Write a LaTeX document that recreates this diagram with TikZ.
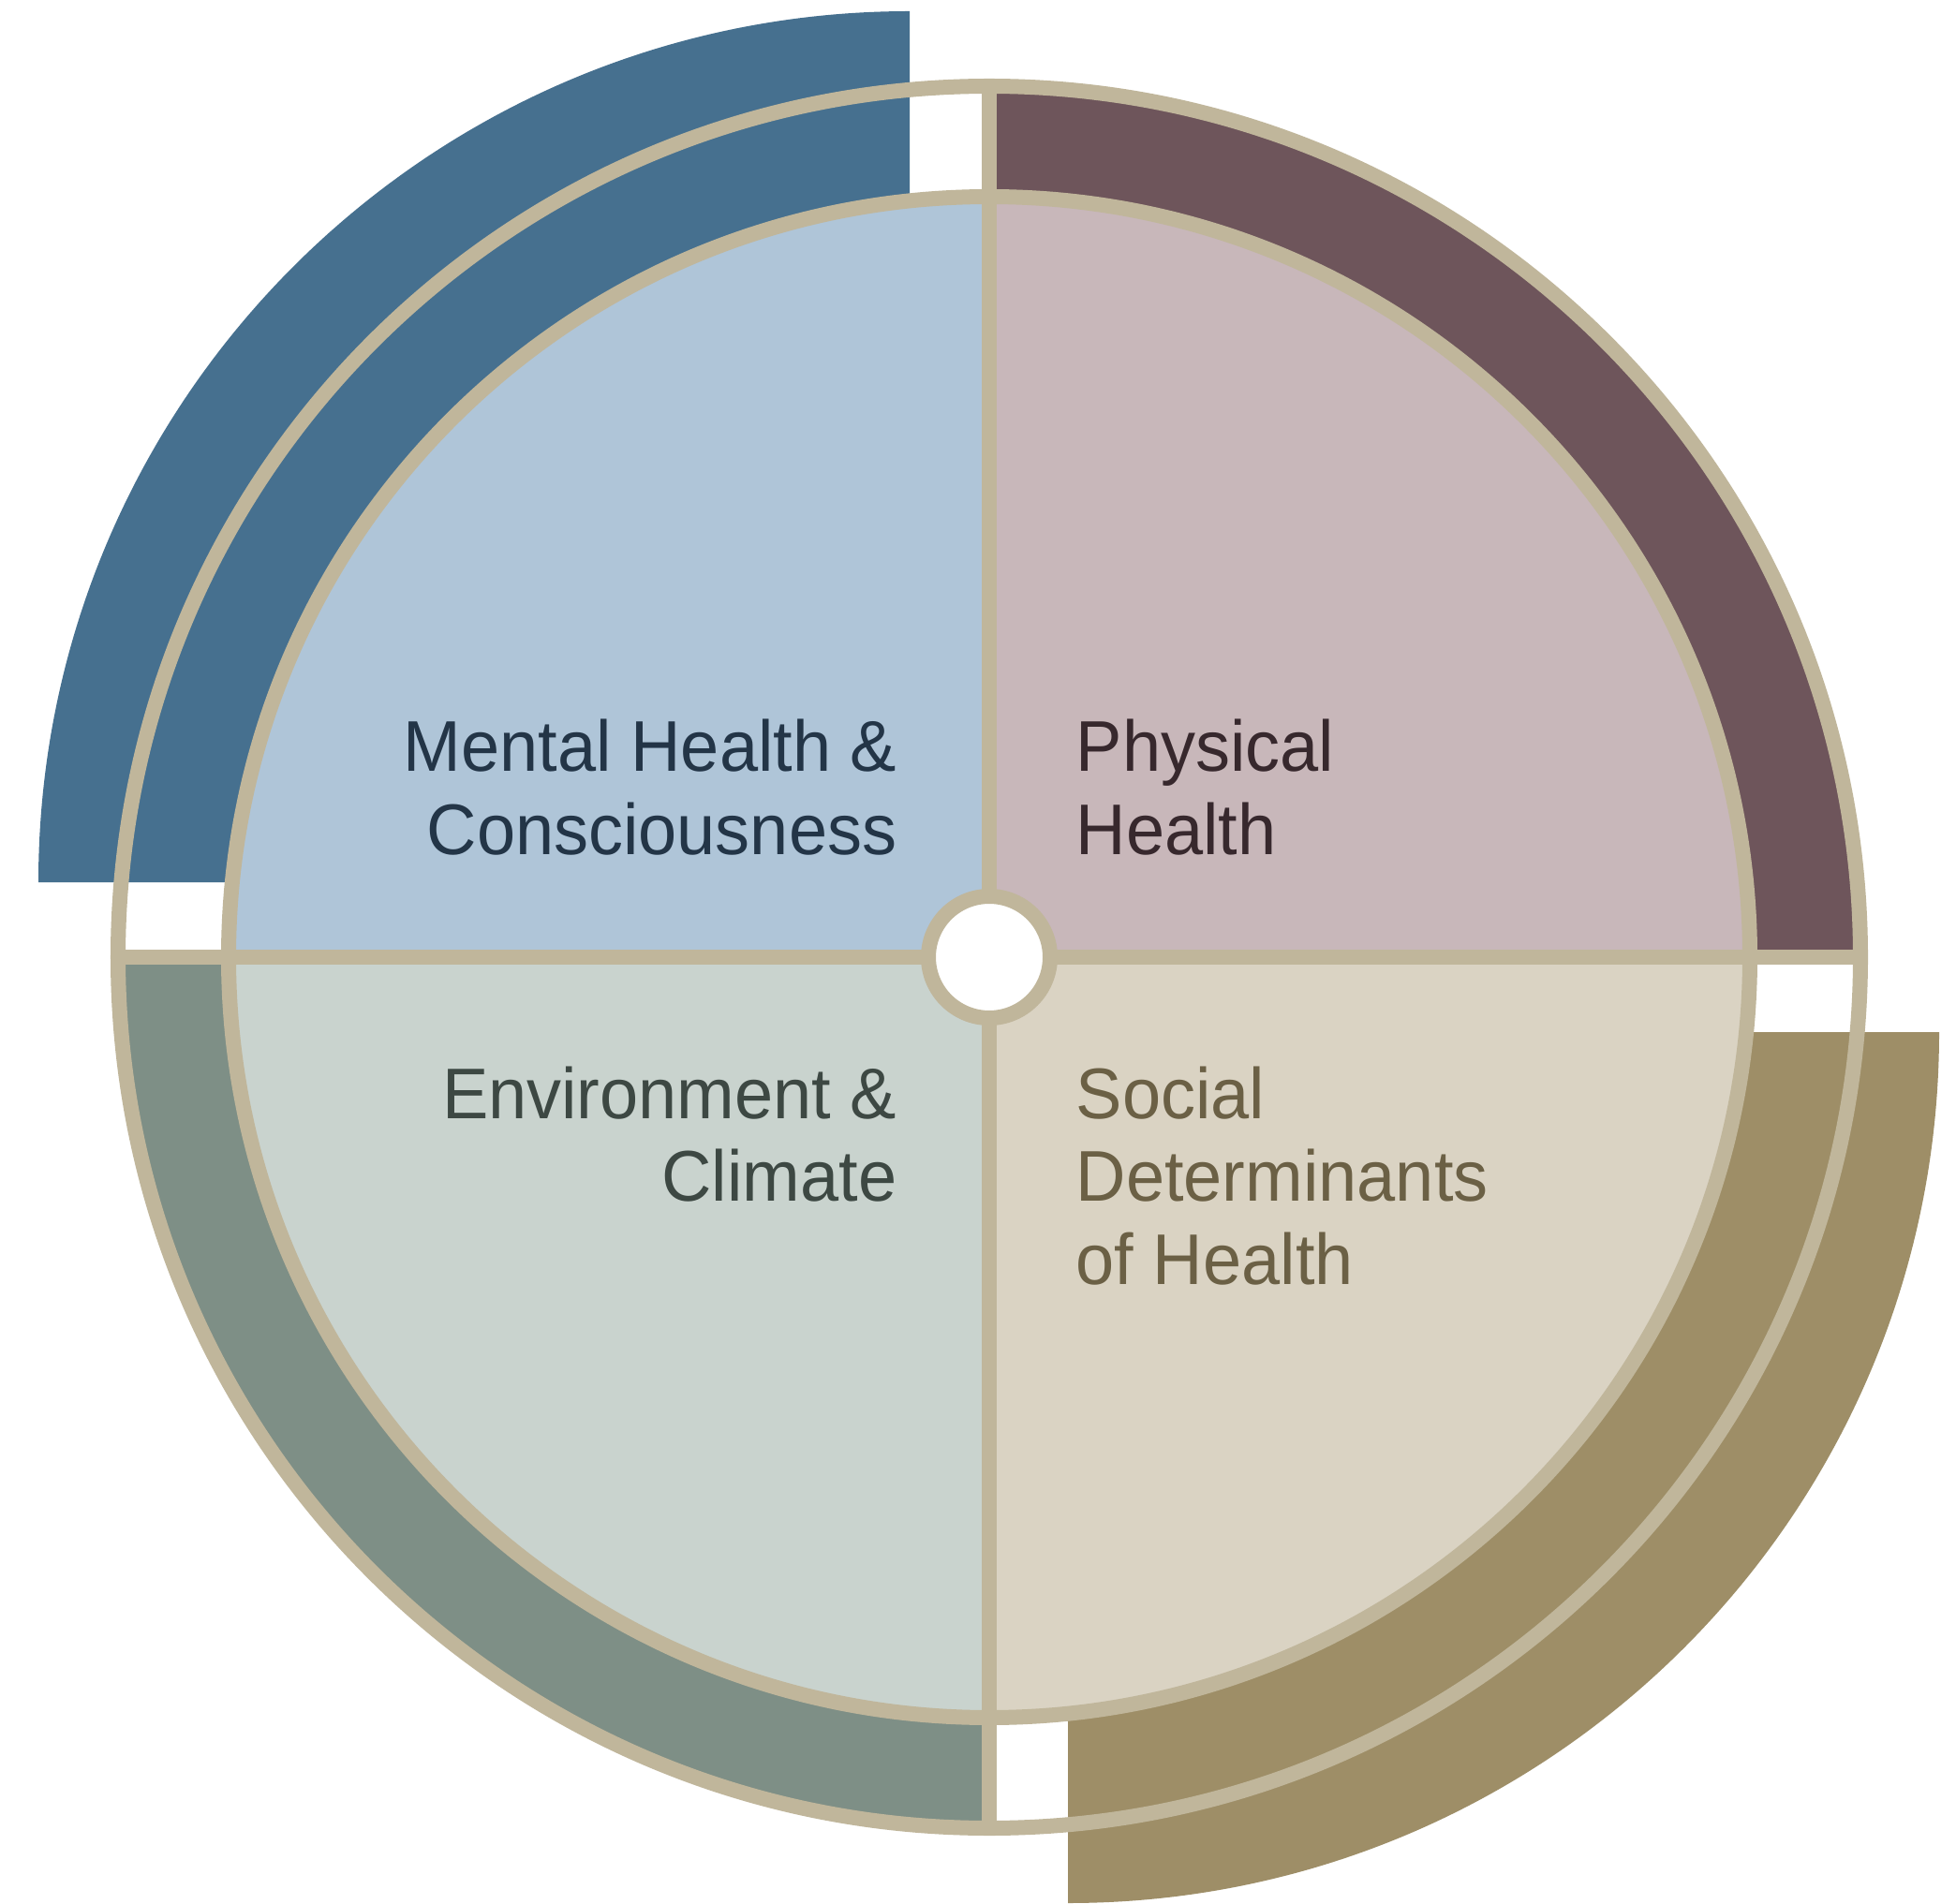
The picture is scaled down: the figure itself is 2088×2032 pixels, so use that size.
\documentclass[tikz,border=0pt]{standalone}
\usepackage{fontspec}
\setmainfont[FakeStretch=0.965]{Liberation Sans}
\definecolor{blueD}{HTML}{46708F}
\definecolor{blueL}{HTML}{AFC5D8}
\definecolor{mauveD}{HTML}{6E555B}
\definecolor{mauveL}{HTML}{C8B7BA}
\definecolor{greenD}{HTML}{7E8F86}
\definecolor{greenL}{HTML}{C9D3CE}
\definecolor{oliveD}{HTML}{9E8E67}
\definecolor{oliveL}{HTML}{DAD3C3}
\definecolor{rim}{HTML}{C0B69B}
\definecolor{txtBlue}{HTML}{233547}
\definecolor{txtMauve}{HTML}{37282D}
\definecolor{txtGreen}{HTML}{3D4843}
\definecolor{txtOlive}{HTML}{6B6045}
\tikzset{
  rimline/.style={draw=rim, line width=0.16cm},
  lbl/.style={inner sep=0pt, font=\fontsize{21.8pt}{25.3pt}\selectfont},
}
\begin{document}
\begin{tikzpicture}[x=0.01cm, y=0.01cm]
\useasboundingbox (0,0) rectangle (2088,2032);
\fill[white] (0,0) rectangle (2088,2032);
\coordinate (C) at (1056,1010);
\coordinate (BC) at (971,1090);
\coordinate (OC) at (1140,930);
% offset outer quadrants
\fill[blueD] (BC) -- ++(180:930) arc[start angle=180, end angle=90, radius=930] -- cycle;
\fill[oliveD] (OC) -- ++(0:930) arc[start angle=0, end angle=-90, radius=930] -- cycle;
% in-place outer quadrants
\fill[mauveD] (C) -- ++(0:930) arc[start angle=0, end angle=90, radius=930] -- cycle;
\fill[greenD] (C) -- ++(180:930) arc[start angle=180, end angle=270, radius=930] -- cycle;
% outer rim
\draw[rimline] (C) circle[radius=930];
% inner quadrants
\fill[blueL] (C) -- ++(180:812) arc[start angle=180, end angle=90, radius=812] -- cycle;
\fill[mauveL] (C) -- ++(0:812) arc[start angle=0, end angle=90, radius=812] -- cycle;
\fill[greenL] (C) -- ++(180:812) arc[start angle=180, end angle=270, radius=812] -- cycle;
\fill[oliveL] (C) -- ++(0:812) arc[start angle=0, end angle=-90, radius=812] -- cycle;
\draw[rimline] (C) circle[radius=812];
% dividers
\draw[rimline] ([xshift=-9.3cm]C) -- ([xshift=9.3cm]C);
\draw[rimline] ([yshift=-9.3cm]C) -- ([yshift=9.3cm]C);
% hub
\draw[rimline, fill=white] (C) circle[radius=65];
% labels
\node[lbl, anchor=base east, text=txtBlue] (mental) at (958,1208)
  {\begin{tabular}[t]{@{}r@{}}Mental Health \&\\Consciousness\end{tabular}};
\node[lbl, anchor=base west, text=txtMauve] (physical) at (1148,1208)
  {\begin{tabular}[t]{@{}l@{}}Physical\\Health\end{tabular}};
\node[lbl, anchor=base east, text=txtGreen] (environment) at (958,838)
  {\begin{tabular}[t]{@{}r@{}}Environment \&\\Climate\end{tabular}};
\node[lbl, anchor=base west, text=txtOlive] (social) at (1148,838)
  {\begin{tabular}[t]{@{}l@{}}Social\\Determinants\\of Health\end{tabular}};
\end{tikzpicture}
\end{document}
